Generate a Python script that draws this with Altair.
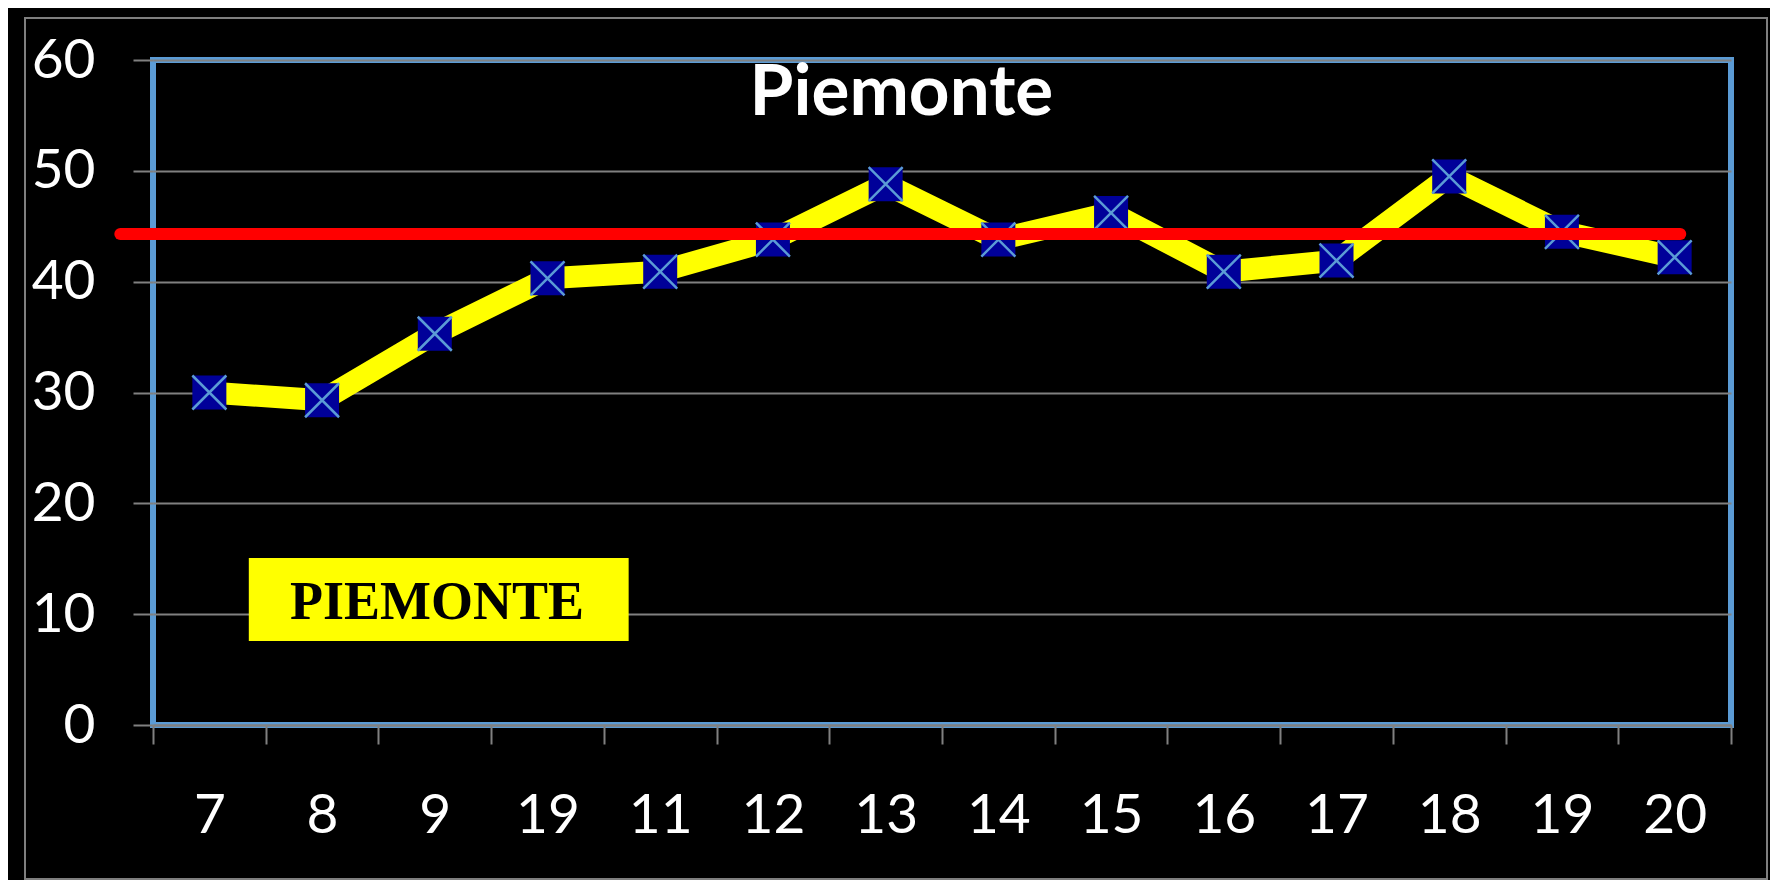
import json
import altair as alt
import pandas as pd

# ---- data ----
labels = ["7", "8", "9", "19", "11", "12", "13", "14", "15", "16", "17", "18", "19", "20"]
values = [30.0, 29.3, 35.3, 40.3, 40.9, 43.8, 48.8, 43.8, 46.2, 40.9, 41.9, 49.5, 44.5, 42.2]
mean_value = [44.3]
mean_span = [-0.79, 13.05]          # index units along the x axis
title_text = ["Piemonte"]
title_pos = [6.14, 55.0]            # index, value (baseline)
note_text = ["PIEMONTE"]
note_box_x = [0.35, 3.72]           # index units
note_box_y = [7.58, 15.07]          # value units
note_text_pos = [2.02, 9.56]        # index, value

idx = list(range(len(labels)))
df = pd.DataFrame({"i": idx, "label": labels, "value": values})
df_mean = pd.DataFrame({"i": [mean_span[0]], "i2": [mean_span[1]], "value": mean_value})
df_box = pd.DataFrame({"i": [note_box_x[0]], "i2": [note_box_x[1]],
                       "value": [note_box_y[0]], "value2": [note_box_y[1]]})
df_txt = pd.DataFrame({"i": [note_text_pos[0]], "value": [note_text_pos[1]], "t": note_text})
df_title = pd.DataFrame({"i": [title_pos[0]], "value": [title_pos[1]], "t": title_text})

GRAY = "#808080"
BLUE = "#5B9BD5"

xscale = alt.Scale(domain=[-0.5, len(labels) - 0.5], nice=False, zero=False)
yscale = alt.Scale(domain=[0, 60], nice=False)

x_axis = alt.Axis(
    values=[k / 2 for k in range(-1, 2 * len(labels))],
    labelExpr="datum.value % 1 == 0 ? " + json.dumps(labels) + "[datum.value] : ''",
    tickOpacity={"condition": {"test": "datum.value % 1 != 0", "value": 1}, "value": 0},
    tickSize=19, tickColor=GRAY, tickWidth=2,
    grid=False, domain=True, domainColor=GRAY, domainWidth=2,
    labelFont="Lato", labelFontSize=55, labelColor="white",
    labelPadding=88, labelBaseline="alphabetic",
    labelOverlap=False, labelFlush=False, labelBound=False, title=None,
)
y_axis = alt.Axis(
    values=[0, 10, 20, 30, 40, 50, 60],
    tickSize=20, tickColor=GRAY, tickWidth=2,
    grid=True, gridColor=GRAY, gridWidth=2, domain=False,
    labelFont="Lato", labelFontSize=55, labelColor="white",
    labelPadding=38, labelBaseline="middle", title=None,
)

X = alt.X("i:Q", scale=xscale, axis=x_axis)
Y = alt.Y("value:Q", scale=yscale, axis=y_axis)

line = alt.Chart(df).mark_line(color="#FFFF00", strokeWidth=22).encode(x=X, y=Y)
squares = alt.Chart(df).mark_point(shape="square", filled=True, size=34 * 34,
                                   color="#000099", opacity=1).encode(x=X, y=Y)
crosses = alt.Chart(df).mark_point(shape="M-1,-1L1,1M-1,1L1,-1", filled=False,
                                   size=34 * 34, stroke=BLUE, strokeWidth=2.5,
                                   opacity=1).encode(x=X, y=Y)
mean_rule = alt.Chart(df_mean).mark_rule(color="#FF0000", strokeWidth=12,
                                         strokeCap="round").encode(x=X, x2="i2:Q", y=Y)
box = alt.Chart(df_box).mark_rect(color="#FFFF00").encode(x=X, x2="i2:Q", y=Y, y2="value2:Q")
txt = alt.Chart(df_txt).mark_text(font="Liberation Serif", fontWeight="bold", fontSize=54,
                                  baseline="alphabetic", align="center",
                                  color="black").encode(x=X, y=Y, text="t:N")
title = alt.Chart(df_title).mark_text(font="Lato", fontWeight="bold", fontSize=71,
                                      baseline="alphabetic", align="center",
                                      color="white").encode(x=X, y=Y, text="t:N")
frame = alt.Chart(df_mean).mark_rect(fill=None, stroke="#7f7f7f", strokeWidth=2).encode(
    x=alt.value(-128), x2=alt.value(1614), y=alt.value(-42), y2=alt.value(819))

chart = alt.layer(frame, line, squares, crosses, mean_rule, box, txt, title).properties(
    width=1578, height=665,
    background="#000000",
    padding={"left": 145, "top": 52, "right": 39, "bottom": 155},
    autosize=alt.AutoSizeParams(type="none"),
).configure_view(stroke=BLUE, strokeWidth=6)

chart.save("out.html", embed_options={"renderer": "svg", "actions": False})
